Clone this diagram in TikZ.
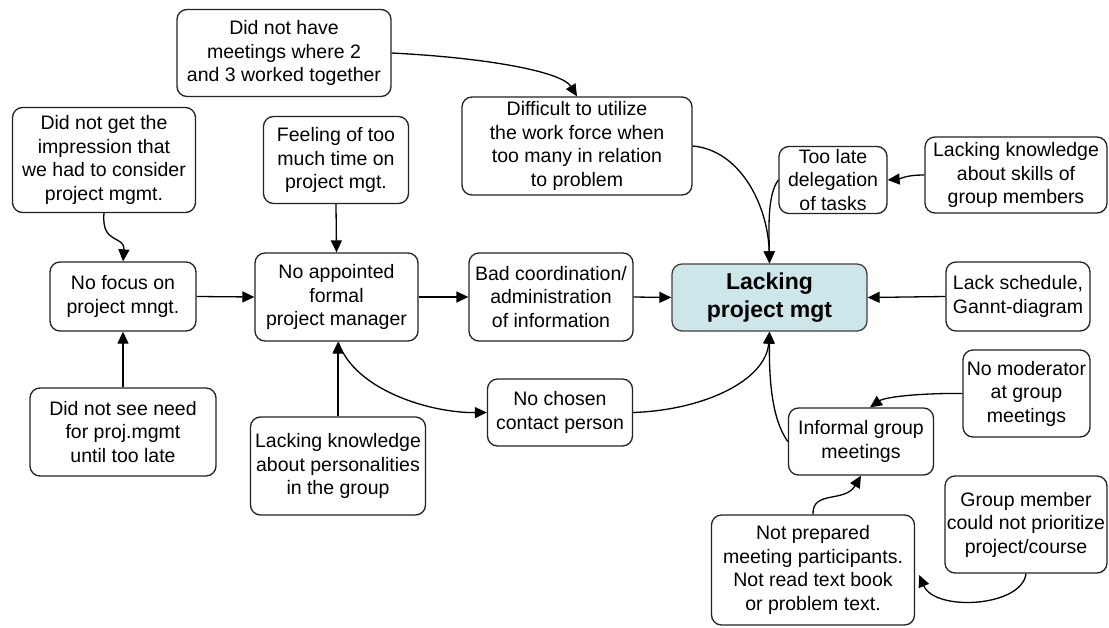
\documentclass[tikz,border=0pt]{standalone}
\usepackage{fontspec}
\setmainfont{Liberation Sans}
\usetikzlibrary{arrows.meta,calc}
\definecolor{corefill}{HTML}{CDE6E9}
\definecolor{edgegrey}{HTML}{222222}
\begin{document}
\begin{tikzpicture}[x=1pt,y=-1pt,
  cause/.style={draw=edgegrey, line width=1.3pt, rounded corners=10pt,
    align=center, inner sep=0pt, fill=white,
    font=\fontsize{19.5}{23.5}\selectfont},
  core/.style={cause, fill=corefill, draw=black!75,
    font=\bfseries\fontsize{23}{28}\selectfont},
  link/.style={draw=black, line width=1.3pt,
    -{Triangle[length=12pt,width=11pt]}}
]
\useasboundingbox (0,0) rectangle (1109,627);

% causes, top row
\node[cause, minimum width=214pt, minimum height=87pt] (meet)   at (284,53)  {Did not have\\meetings where 2\\and 3 worked together};
\node[cause, minimum width=183pt, minimum height=105pt] (impr)  at (104,160) {Did not get the\\impression that\\we had to consider\\project mgmt.};
\node[cause, minimum width=145pt, minimum height=87pt] (feel)   at (336,160) {Feeling of too\\much time on\\project mgt.};
\node[cause, minimum width=230pt, minimum height=98pt] (diff)   at (577,146) {Difficult to utilize\\the work force when\\too many in relation\\to problem};
\node[cause, minimum width=108pt, minimum height=67pt] (late)   at (833,180) {Too late\\delegation\\of tasks};
\node[cause, minimum width=182pt, minimum height=76pt] (skills) at (1016,175) {Lacking knowledge\\about skills of\\group members};

% middle row
\node[cause, minimum width=146pt, minimum height=69pt] (focus)  at (123,296.5) {No focus on\\project mngt.};
\node[cause, minimum width=163pt, minimum height=88pt] (appt)   at (336.5,297) {No appointed\\formal\\project manager};
\node[cause, minimum width=164pt, minimum height=88pt] (coord)  at (551,297) {Bad coordination/\\administration\\of information};
\node[core,  minimum width=195pt, minimum height=67pt] (lack)   at (769.5,297.5) {Lacking\\project mgt};
\node[cause, minimum width=144pt, minimum height=69pt] (sched)  at (1018,296.5) {Lack schedule,\\Gannt-diagram};

% lower causes
\node[cause, minimum width=186pt, minimum height=88pt] (need)   at (123,432) {Did not see need\\for proj.mgmt\\until too late};
\node[cause, minimum width=175pt, minimum height=98pt] (pers)   at (338,466) {Lacking knowledge\\about personalities\\in the group};
\node[cause, minimum width=145pt, minimum height=67pt] (contact) at (560,412.5) {No chosen\\contact person};
\node[cause, minimum width=127pt, minimum height=87pt] (moder)  at (1026.5,393.5) {No moderator\\at group\\meetings};
\node[cause, minimum width=145pt, minimum height=67pt] (informal) at (861,441.5) {Informal group\\meetings};
\node[cause, minimum width=162pt, minimum height=97pt] (prior)  at (1026,524.5) {Group member\\could not prioritize\\project/course};
\node[cause, minimum width=203pt, minimum height=110pt] (prep)  at (813,570) {Not prepared\\meeting participants.\\Not read text book\\or problem text.};

% end points off the anchors
\coordinate (informalTop) at ($(informal.north)+(9,0)$);
\coordinate (prepSide) at ($(prep.east)+(4,5)$);
\coordinate (apptFoot) at ($(appt.south)+(2,1)$);

% straight links
\draw[link] (feel.south) -- (appt.north);
\draw[link] (focus.east) -- (appt.west);
\draw[link] (appt.east) -- (coord.west);
\draw[link] (coord.east) -- (lack.west);
\draw[link] (sched.west) -- (lack.east);
\draw[link] (need.north) -- (focus.south);
\draw[link] (pers.north) -- (pers.north |- appt.south);

% curved links
\draw[link] (meet.east) .. controls (490,58) and (562,72) .. (diff.north);
\draw[link] (impr.south) .. controls (101,245) and (125,235) .. (focus.north);
\draw[link] (diff.east) .. controls (740,150) and (768,205) .. (lack.north);
\draw[link] (late.west) .. controls (767,195) and (769,230) .. (lack.north);
\draw[link] (skills.west) .. controls (905,175) and (900,179) .. (late.east);
\draw[link] (apptFoot) .. controls (355,390) and (430,413) .. (contact.west);
\draw[link] (contact.east) .. controls (705,410) and (766,380) .. (lack.south);
\draw[link] (informal.west) .. controls (772,420) and (769,380) .. (lack.south);
\draw[link] (moder.west) .. controls (920,393) and (885,397) .. (informalTop);
\draw[link] (prep.north) .. controls (812,490) and (845,503) .. (informal.south);
\draw[link] (prior.south) .. controls (1022,607) and (935,612) .. (prepSide);
\end{tikzpicture}
\end{document}
